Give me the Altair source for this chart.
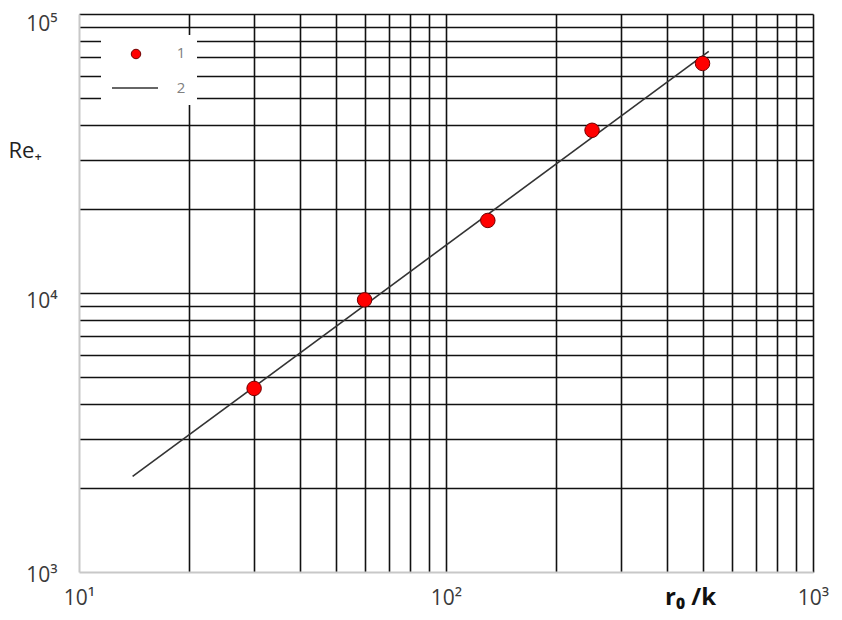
import altair as alt
import pandas as pd

# Measured points (series 1)
r0k = [30, 60, 130, 250, 500]
re_plus = [4550, 9450, 18200, 38300, 66500]

# Fitted line (series 2) endpoints
line_x = [14, 520]
line_y = [2200, 73500]

x_grid = [10, 20, 30, 40, 50, 60, 70, 80, 90, 100, 200, 300, 400, 500, 600, 700, 800, 900, 1000]
y_grid = [1000, 2000, 3000, 4000, 5000, 6000, 7000, 8000, 9000, 10000,
          20000, 30000, 40000, 50000, 60000, 70000, 80000, 90000, 100000]
legend_labels = ["1", "2"]

pts = pd.DataFrame({"x": r0k, "y": re_plus})
ln = pd.DataFrame({"x": line_x, "y": line_y})

FONT = "Open Sans"
GRID = "#111111"

xscale = alt.Scale(type="log", domain=[10, 1000], nice=False)
yscale = alt.Scale(type="log", domain=[1000, 100000], nice=False)

xaxis = alt.Axis(
    values=x_grid,
    grid=True,
    gridColor={"condition": {"test": "datum.value <= 10", "value": "transparent"}, "value": GRID},
    gridWidth=1.6,
    ticks=False,
    domainColor="#c8c8c8",
    domainWidth=2,
    labelExpr="datum.value == 10 ? '10¹' : datum.value == 100 ? '10²' : datum.value == 1000 ? '10³' : ''",
    labelFont=FONT,
    labelFontSize=21,
    labelColor="#3a3a3a",
    labelPadding=15,
    labelBaseline="top",
    labelFlush=False,
    labelOverlap=False,
    title="r₀ /k",
    titleFont=FONT,
    titleFontSize=24,
    titleFontWeight="bold",
    titleColor="#111111",
    titleX=611,
    titleY=32,
    titleAlign="center",
    titleBaseline="alphabetic",
)

yaxis = alt.Axis(
    values=y_grid,
    grid=True,
    gridColor={"condition": {"test": "datum.value <= 1000", "value": "transparent"}, "value": GRID},
    gridWidth=1.6,
    ticks=False,
    domainColor="#c8c8c8",
    domainWidth=2,
    labelExpr="datum.value == 1000 ? '10³' : datum.value == 10000 ? '10⁴' : datum.value == 100000 ? '10⁵' : ''",
    labelFont=FONT,
    labelFontSize=21,
    labelColor="#3a3a3a",
    labelPadding=22,
    labelBaseline="middle",
    labelOffset={"condition": [{"test": "datum.value == 100000", "value": 10},
                               {"test": "datum.value == 1000", "value": 3}],
                 "value": 8},
    labelFlush=False,
    labelOverlap=False,
    title="Re₊",
    titleFont=FONT,
    titleFontSize=22,
    titleFontWeight="normal",
    titleColor="#222222",
    titleAngle=0,
    titleX=-71,
    titleY=143,
    titleAlign="left",
    titleBaseline="alphabetic",
)

line = alt.Chart(ln).mark_line(color="#333333", strokeWidth=1.6).encode(
    x=alt.X("x:Q", scale=xscale, axis=xaxis),
    y=alt.Y("y:Q", scale=yscale, axis=yaxis),
)

points = alt.Chart(pts).mark_point(
    filled=True, fill="#ff0000", stroke="#700000", strokeWidth=1, opacity=1, size=210
).encode(
    x=alt.X("x:Q", scale=xscale),
    y=alt.Y("y:Q", scale=yscale),
)

# Legend (drawn in pixel space)
leg_df = pd.DataFrame({"label": legend_labels})
box = alt.Chart(pd.DataFrame({"a": [0]})).mark_rect(fill="white", stroke=None).encode(
    x=alt.value(22), x2=alt.value(118), y=alt.value(21), y2=alt.value(91)
)
leg_dot = alt.Chart(pd.DataFrame({"a": [0]})).mark_point(
    filled=True, fill="#ff0000", stroke="#700000", strokeWidth=1, opacity=1, size=90
).encode(x=alt.value(57), y=alt.value(40))
leg_line = alt.Chart(pd.DataFrame({"a": [0]})).mark_rule(color="#333333", strokeWidth=1.5).encode(
    x=alt.value(33), x2=alt.value(79), y=alt.value(74)
)
leg_t1 = alt.Chart(leg_df).transform_filter("datum.label == '1'").mark_text(
    font=FONT, fontSize=15, color="#808080", align="center", baseline="middle"
).encode(x=alt.value(102), y=alt.value(39), text="label:N")
leg_t2 = alt.Chart(leg_df).transform_filter("datum.label == '2'").mark_text(
    font=FONT, fontSize=15, color="#808080", align="center", baseline="middle"
).encode(x=alt.value(102), y=alt.value(74), text="label:N")

chart = alt.layer(line, points, box, leg_dot, leg_line, leg_t1, leg_t2).properties(
    width=734,
    height=558,
    autosize=alt.AutoSizeParams(type="none"),
    padding={"left": 71, "top": 6, "right": 21, "bottom": 40},
    background="white",
).configure_view(stroke=None)

chart.save("out.html", embed_options={"renderer": "svg", "actions": False})
